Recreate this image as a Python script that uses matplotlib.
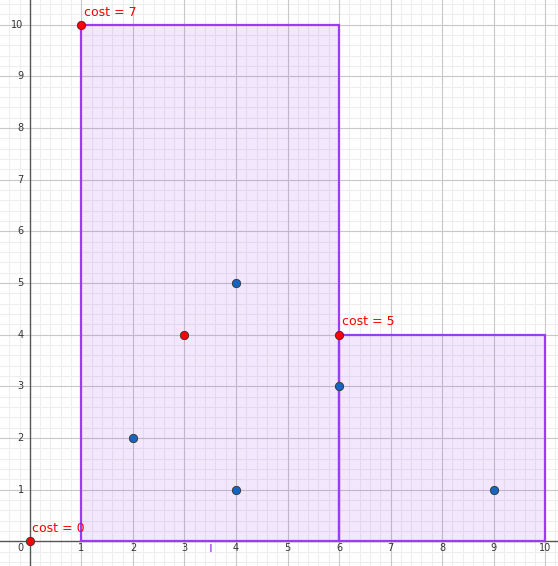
import matplotlib
matplotlib.use("Agg")
import matplotlib.pyplot as plt
from matplotlib.patches import Rectangle
import numpy as np

# Rectangles as (x0, y0, x1, y1)
rects = [(1, 0, 6, 10), (6, 0, 10, 4)]
red_x = [0, 1, 3, 6]
red_y = [0, 10, 4, 4]
blue_x = [4, 2, 6, 4, 9]
blue_y = [5, 2, 3, 1, 1]
cost_labels = ["cost = 0", "cost = 7", "cost = 5"]
cost_pts = [(0, 0), (1, 10), (6, 4)]

fig = plt.figure(figsize=(5.58, 5.66), dpi=100)
ax = fig.add_axes([0, 0, 1, 1])
xmin, xmax = -0.58, 10.25
ymin, ymax = -0.48, 10.48
ax.set_xlim(xmin, xmax)
ax.set_ylim(ymin, ymax)
for s in ax.spines.values():
    s.set_visible(False)
ax.set_xticks([])
ax.set_yticks([])

# grid
for v in np.arange(-0.4, 10.3, 0.2):
    if abs(v - round(v)) > 1e-6:
        ax.axvline(v, color="#eeeeee", lw=0.8, zorder=0)
for v in np.arange(-0.4, 10.5, 0.2):
    if abs(v - round(v)) > 1e-6:
        ax.axhline(v, color="#eeeeee", lw=0.8, zorder=0)
for v in range(1, 11):
    ax.axvline(v, color="#c8c8c8", lw=0.8, zorder=0.5)
    ax.axhline(v, color="#c8c8c8", lw=0.8, zorder=0.5)
ax.axvline(0, color="#555555", lw=1.0, zorder=1)
ax.axhline(0, color="#555555", lw=1.0, zorder=1)

# tick labels
for v in range(1, 11):
    ax.text(v, -0.13, str(v), ha="center", va="center", fontsize=7, color="#333333")
    ax.text(-0.12, v, str(v), ha="right", va="center", fontsize=7, color="#333333")
ax.text(-0.12, -0.13, "0", ha="right", va="center", fontsize=7, color="#333333")

# rectangles
for x0, y0, x1, y1 in rects:
    ax.add_patch(Rectangle((x0, y0), x1 - x0, y1 - y0, facecolor="#9a3cf0",
                           alpha=0.12, edgecolor="none", zorder=2))
    ax.add_patch(Rectangle((x0, y0), x1 - x0, y1 - y0, facecolor="none",
                           edgecolor="#9a3cf0", lw=1.6, zorder=3))

ax.text(3.5, -0.13, "i", ha="center", va="center", fontsize=10, color="#9a3cf0")

ax.scatter(blue_x, blue_y, s=36, color="#1565c0", edgecolors="#333333",
           linewidths=0.6, zorder=5)
ax.scatter(red_x, red_y, s=36, color="#ff0000", edgecolors="#333333",
           linewidths=0.6, zorder=5)

for lab, (px, py) in zip(cost_labels, cost_pts):
    ax.text(px + 0.05, py + 0.12, lab, ha="left", va="bottom", fontsize=9,
            color="#ff0000", zorder=6)

fig.savefig("out.png", dpi=100)
